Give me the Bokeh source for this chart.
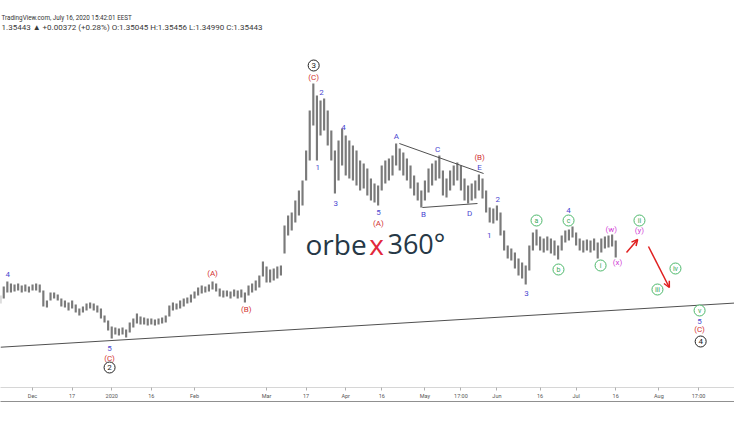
from bokeh.plotting import figure
from bokeh.models import Range1d, FixedTicker, LinearAxis, Arrow, OpenHead
from bokeh.core.properties import value
from bokeh.embed import file_html
from bokeh.resources import INLINE

# ---------------- data (USD/CAD, trading-day index; 0 = 2 Dec 2019) ----------------
bar_index = list(range(-9, 163))
bar_high = [
    1.3211, 1.3274,
    1.3309, 1.3295, 1.3288, 1.3295, 1.3281, 1.3288, 1.3274, 1.3288, 1.3295, 1.3288,
    1.3246, 1.3176, 1.3232, 1.3232, 1.3218, 1.3190, 1.3176, 1.3162, 1.3176, 1.3148,
    1.3120, 1.3134, 1.3155, 1.3162, 1.3155, 1.3141, 1.3120, 1.3071, 1.3036, 1.2994,
    1.2987, 1.2980, 1.2987, 1.2973, 1.3022, 1.3050, 1.3085, 1.3064, 1.3057, 1.3050,
    1.3050, 1.3043, 1.3050, 1.3057, 1.3071, 1.3141, 1.3162, 1.3155, 1.3176, 1.3190,
    1.3197, 1.3218, 1.3239, 1.3267, 1.3281, 1.3274, 1.3288, 1.3309, 1.3295, 1.3260,
    1.3246, 1.3246, 1.3239, 1.3253, 1.3246, 1.3253, 1.3232, 1.3281, 1.3295, 1.3316,
    1.3351, 1.3449, 1.3414, 1.3393, 1.3400, 1.3414, 1.3421, 1.3701, 1.3771, 1.3792,
    1.3876, 1.3946, 1.4016, 1.4226, 1.4506, 1.4695, 1.4611, 1.4576, 1.4590, 1.4506,
    1.4366, 1.4226, 1.4296, 1.4380, 1.4331, 1.4296, 1.4261, 1.4226, 1.4156, 1.4135,
    1.4100, 1.4030, 1.3995, 1.3981, 1.4121, 1.4156, 1.4170, 1.4191, 1.4275, 1.4240,
    1.4212, 1.4170, 1.4121, 1.4051, 1.4002, 1.3946, 1.4016, 1.4100, 1.4135, 1.4156,
    1.4191, 1.4086, 1.4030, 1.4086, 1.4121, 1.4142, 1.4121, 1.4030, 1.3981, 1.3995,
    1.4016, 1.4058, 1.4030, 1.3946, 1.3827, 1.3820, 1.3841, 1.3792, 1.3666, 1.3561,
    1.3540, 1.3512, 1.3470, 1.3442, 1.3421, 1.3561, 1.3652, 1.3673, 1.3624, 1.3610,
    1.3624, 1.3610, 1.3596, 1.3561, 1.3631, 1.3666, 1.3673, 1.3694, 1.3652, 1.3610,
    1.3596, 1.3603, 1.3596, 1.3610, 1.3582, 1.3610, 1.3624, 1.3631, 1.3638, 1.3596,
]
bar_low = [
    1.3155, 1.3190,
    1.3232, 1.3232, 1.3239, 1.3246, 1.3232, 1.3239, 1.3232, 1.3246, 1.3246, 1.3232,
    1.3134, 1.3127, 1.3176, 1.3190, 1.3176, 1.3134, 1.3127, 1.3106, 1.3120, 1.3092,
    1.3071, 1.3092, 1.3106, 1.3120, 1.3106, 1.3092, 1.3050, 1.3022, 1.2966, 1.2910,
    1.2938, 1.2931, 1.2938, 1.2917, 1.2952, 1.2987, 1.3015, 1.3008, 1.3008, 1.3001,
    1.3008, 1.3001, 1.3008, 1.3015, 1.3022, 1.3064, 1.3106, 1.3113, 1.3120, 1.3134,
    1.3155, 1.3162, 1.3190, 1.3211, 1.3225, 1.3232, 1.3239, 1.3253, 1.3239, 1.3204,
    1.3197, 1.3204, 1.3190, 1.3204, 1.3190, 1.3197, 1.3162, 1.3211, 1.3232, 1.3246,
    1.3267, 1.3344, 1.3302, 1.3302, 1.3316, 1.3330, 1.3351, 1.3505, 1.3631, 1.3666,
    1.3722, 1.3771, 1.3841, 1.4016, 1.4156, 1.4401, 1.4156, 1.4331, 1.4366, 1.4261,
    1.4156, 1.3925, 1.4016, 1.4121, 1.4051, 1.4030, 1.4016, 1.3981, 1.3946, 1.3960,
    1.3911, 1.3876, 1.3862, 1.3841, 1.3946, 1.3995, 1.4016, 1.4051, 1.4121, 1.4086,
    1.4051, 1.4016, 1.3960, 1.3911, 1.3876, 1.3827, 1.3876, 1.3932, 1.3981, 1.4016,
    1.4030, 1.3911, 1.3897, 1.3946, 1.3981, 1.4016, 1.3946, 1.3876, 1.3855, 1.3876,
    1.3890, 1.3946, 1.3890, 1.3792, 1.3722, 1.3715, 1.3736, 1.3631, 1.3526, 1.3470,
    1.3456, 1.3400, 1.3351, 1.3330, 1.3288, 1.3386, 1.3526, 1.3561, 1.3526, 1.3512,
    1.3526, 1.3505, 1.3491, 1.3463, 1.3526, 1.3582, 1.3596, 1.3617, 1.3561, 1.3526,
    1.3512, 1.3526, 1.3512, 1.3526, 1.3470, 1.3512, 1.3540, 1.3547, 1.3554, 1.3477,
]

tick_index = [0, 11, 22, 33, 45, 65, 76, 87, 97, 109, 119, 129, 141, 151, 162, 174, 185]
tick_labels = ["Dec", "17", "2020", "16", "Feb", "Mar", "17", "Apr", "16", "May",
               "17:00", "Jun", "16", "Jul", "16", "Aug", "17:00"]

# Elliott wave labels
blue_text = ["4", "5", "1", "2", "3", "4", "5", "A", "B", "C", "D", "E", "2", "1", "3", "4", "5"]
blue_t = [-6.9, 21.4, 79.2, 80.3, 84.2, 86.4, 96.1, 101.1, 108.6, 112.5, 121.4, 124.2,
          129.2, 126.9, 137.2, 148.9, 185.3]
blue_p = [1.3358, 1.2840, 1.4107, 1.4632, 1.3855, 1.4387, 1.3792, 1.4324, 1.3778, 1.4233,
          1.3785, 1.4107, 1.3883, 1.3631, 1.3225, 1.3806, 1.3029]

red_text = ["(C)", "(A)", "(B)", "(C)", "(A)", "(B)", "(C)"]
red_t = [21.4, 50.0, 59.4, 78.1, 96.1, 124.2, 185.3]
red_p = [1.2770, 1.3365, 1.3113, 1.4737, 1.3715, 1.4177, 1.2973]

black_text = ["2", "3", "4"]
black_t = [21.4, 78.1, 185.6]
black_p = [1.2707, 1.4821, 1.2889]

green_text = ["a", "b", "c", "i", "ii", "iii", "iv", "v"]
green_t = [140.0, 146.1, 148.9, 157.8, 168.6, 173.6, 178.6, 185.3]
green_p = [1.3736, 1.3393, 1.3736, 1.3421, 1.3736, 1.3253, 1.3400, 1.3106]

magenta_text = ["(w)", "(x)", "(y)"]
magenta_t = [160.8, 162.5, 168.6]
magenta_p = [1.3673, 1.3442, 1.3666]

# projection arrows
arrow_t0 = [165.0, 171.1]
arrow_p0 = [1.3512, 1.3554]
arrow_t1 = [168.1, 176.9]
arrow_p1 = [1.3603, 1.3267]

# trend line and triangle lines
trend_t = [-8.9, 195.0]
trend_p = [1.2849, 1.3158]
tri_upper_t = [101.9, 125.3]
tri_upper_p = [1.4275, 1.4065]
tri_lower_t = [108.3, 123.6]
tri_lower_p = [1.3827, 1.3855]

# header
header_line1 = "TradingView.com, July 16, 2020 15:42:01 EEST"
header_line2 = "1.35443 \u25b2 +0.00372 (+0.28%) O:1.35045 H:1.35456 L:1.34990 C:1.35443"

# ---------------- figure ----------------
p = figure(width=734, height=414, x_range=Range1d(-8.9, 195.0), y_range=Range1d(1.2567, 1.5276),
           output_backend="svg", toolbar_location=None, y_axis_location=None,
           min_border_left=0, min_border_right=0, min_border_top=0, min_border_bottom=27)
p.outline_line_color = None
p.grid.visible = False
p.background_fill_color = "white"
p.border_fill_color = "white"

FONT = value("Roboto")

# bars
p.vbar(x=bar_index, width=0.6, top=bar_high, bottom=bar_low,
       fill_color="#7a7a7a", line_color=None)

# lines
p.line(trend_t, trend_p, line_color="#505050", line_width=1)
p.line(tri_upper_t, tri_upper_p, line_color="#505050", line_width=1)
p.line(tri_lower_t, tri_lower_p, line_color="#505050", line_width=1)

# logo
p.text(x=[75.83], y=[1.3575], text=["orbe"], text_font=value("Open Sans"), text_font_size="28px",
       text_color="#263846", text_align="left", text_baseline="alphabetic")
p.text(x=[95.6], y=[1.3575], text=["x"], text_font=value("Open Sans"), text_font_size="28px",
       text_color="#e2283b", text_align="center", text_baseline="alphabetic")
p.text(x=[98.6], y=[1.3575], text=["360°"], text_font=value("Open Sans"), text_font_size="27px",
       text_color="#263846", text_align="left", text_baseline="alphabetic")

# wave labels
p.text(x=blue_t, y=blue_p, text=blue_text, text_font=FONT, text_font_size="8px",
       text_color="#4b48d0", text_align="center", text_baseline="middle")
p.text(x=red_t, y=red_p, text=red_text, text_font=FONT, text_font_size="8px",
       text_color="#d23030", text_align="center", text_baseline="middle")
p.text(x=magenta_t, y=magenta_p, text=magenta_text, text_font=FONT, text_font_size="8px",
       text_color="#d23fd6", text_align="center", text_baseline="middle")

p.scatter(x=black_t, y=black_p, marker="circle", size=11, fill_color="white",
          line_color="#222222", line_width=1)
p.text(x=black_t, y=black_p, text=black_text, text_font=FONT, text_font_size="8px",
       text_color="#222222", text_align="center", text_baseline="middle")

p.scatter(x=green_t, y=green_p, marker="circle", size=11, fill_color="white",
          line_color="#4cb86a", line_width=1)
p.text(x=green_t, y=green_p, text=green_text, text_font=FONT, text_font_size="7px",
       text_color="#3aa85a", text_align="center", text_baseline="middle")

# arrows
for xs, ys, xe, ye in zip(arrow_t0, arrow_p0, arrow_t1, arrow_p1):
    p.add_layout(Arrow(x_start=xs, y_start=ys, x_end=xe, y_end=ye,
                       line_color="#e02020", line_width=1.5,
                       end=OpenHead(size=6, line_color="#e02020", line_width=1.5)))

# header texts
p.text(x=[-8.6], y=[1.5157], text=[header_line1],
       text_font=FONT, text_font_size="6.3px", text_color="#333333",
       text_align="left", text_baseline="middle")
p.text(x=[-8.6], y=[1.5087], text=[header_line2],
       text_font=FONT, text_font_size="8px", text_color="#3a3a3a",
       text_align="left", text_baseline="middle")

# x axis
xa = p.xaxis[0]
xa.ticker = FixedTicker(ticks=tick_index)
xa.major_label_overrides = {t: lab for t, lab in zip(tick_index, tick_labels)}
xa.axis_line_color = "#d6d6d6"
xa.major_tick_line_color = "#b0b0b0"
xa.major_tick_out = 3
xa.major_tick_in = 0
xa.minor_tick_line_color = None
xa.major_label_text_font = "Roboto"
xa.major_label_text_font_size = "5.5px"
xa.major_label_text_color = "#555555"
xa.major_label_standoff = 2

xa2 = LinearAxis(ticker=FixedTicker(ticks=[]), axis_line_color="#909090",
                 major_tick_line_color=None, minor_tick_line_color=None,
                 major_label_text_font_size="0px")
p.add_layout(xa2, "below")

open("out.html", "w").write(file_html(p, INLINE))
